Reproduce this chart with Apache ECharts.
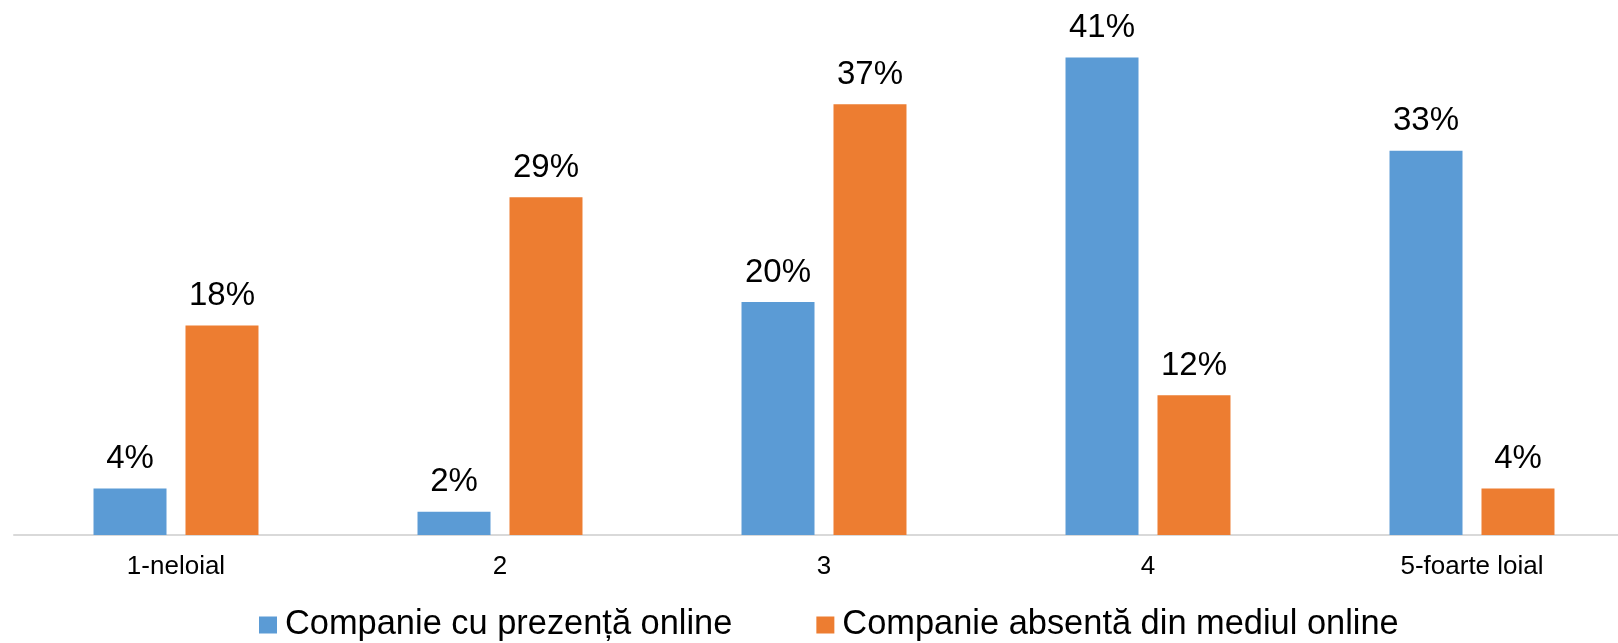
<!DOCTYPE html>
<html>
<head>
<meta charset="utf-8">
<script src="https://cdn.jsdelivr.net/npm/echarts@6/dist/echarts.min.js"></script>
<style>
  html, body { margin: 0; padding: 0; background: #ffffff; overflow: hidden; }
  /* the plot runs a little past the right edge of the page */
  #chart { width: 1634px; height: 643px; }
</style>
</head>
<body>
<div id="chart"></div>
<script>
// Loyalty scale categories
const categories = ['1-neloial', '2', '3', '4', '5-foarte loial'];
// Share of respondents (%) per loyalty level
const onlinePresence = [4, 2, 20, 41, 33];
const onlineAbsent = [18, 29, 37, 12, 4];
const seriesNames = ['Companie cu prezență online', 'Companie absentă din mediul online'];

const chart = echarts.init(document.getElementById('chart'), null, { renderer: 'canvas' });

const FONT = 'Liberation Sans, Arial, sans-serif';

const labelStyle = {
  show: true,
  position: 'top',
  distance: 13,
  formatter: '{c}%',
  fontFamily: FONT,
  fontSize: 33,
  color: '#000000'
};

chart.setOption({
  animation: false,
  backgroundColor: '#ffffff',
  grid: { left: 14, top: 11, right: 0, height: 524, containLabel: false },
  legend: {
    left: 254,
    top: 603,
    itemWidth: 18,
    itemHeight: 17,
    itemGap: 84,
    icon: 'rect',
    textStyle: { fontFamily: FONT, fontSize: 34.4, color: '#000000', padding: [0, 0, 0, 3] },
    data: seriesNames
  },
  xAxis: {
    type: 'category',
    data: categories,
    axisLine: { show: true, lineStyle: { color: '#d9d9d9', width: 2 } },
    axisTick: { show: false },
    axisLabel: { fontFamily: FONT, fontSize: 26, color: '#000000', margin: 19 }
  },
  yAxis: {
    type: 'value',
    min: 0,
    max: 45,
    interval: 5,
    show: false,
    splitLine: { show: false }
  },
  series: [
    {
      name: seriesNames[0],
      type: 'bar',
      data: onlinePresence,
      barWidth: 73,
      barGap: '26%',
      itemStyle: { color: '#5b9bd5' },
      label: labelStyle
    },
    {
      name: seriesNames[1],
      type: 'bar',
      data: onlineAbsent,
      barWidth: 73,
      barGap: '26%',
      itemStyle: { color: '#ed7d31' },
      label: labelStyle
    }
  ]
});
</script>
</body>
</html>
